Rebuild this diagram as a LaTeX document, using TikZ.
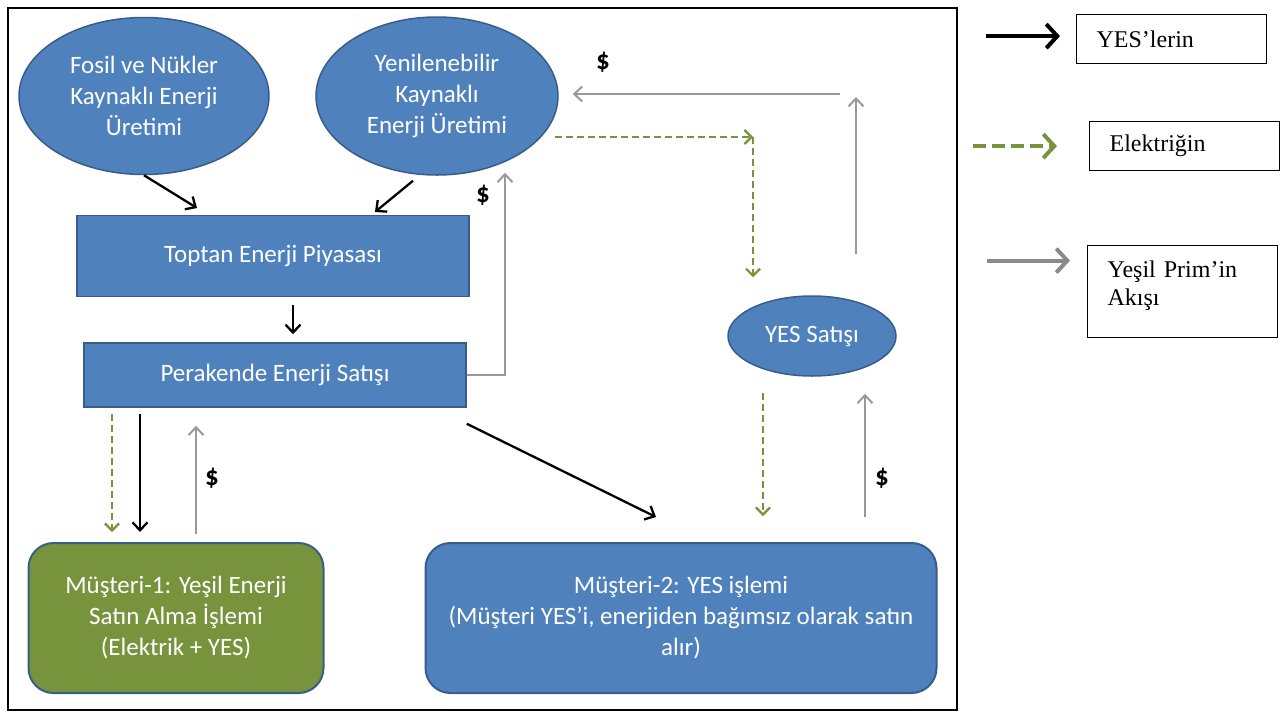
\documentclass[tikz,border=0pt]{standalone}
\usepackage{fontspec}
\setmainfont{Carlito}
\newfontfamily\legfont{Liberation Serif}
\usetikzlibrary{positioning,arrows.meta,shapes.geometric}

\definecolor{boxblue}{HTML}{4F81BD}
\definecolor{edgeblue}{HTML}{385D8A}
\definecolor{boxgreen}{HTML}{77933C}
\definecolor{flowgray}{HTML}{999999}

\begin{document}
\begin{tikzpicture}[x=1pt, y=-1pt, font=\fontsize{25}{31}\selectfont,
  blob/.style={ellipse, draw=edgeblue, line width=1.5pt, fill=boxblue, inner sep=0pt,
               label={[text=white, align=center]center:#1}},
  bar/.style={rectangle, draw=edgeblue, line width=1.5pt, fill=boxblue, text=white, align=center},
  client/.style={rectangle, rounded corners=25pt, draw=edgeblue, line width=2pt, text=white, align=center},
  yes/.style={line width=2.3pt, -{Straight Barb[length=8pt,width=15pt]}},
  elec/.style={boxgreen, line width=2.2pt, dash pattern=on 7pt off 4pt, -{Straight Barb[length=7pt,width=14pt]}},
  prim/.style={flowgray, line width=2pt, -{Straight Barb[length=8pt,width=15pt]}},
  money/.style={font=\fontsize{27}{30}\selectfont\bfseries},
  legbox/.style={draw, line width=1.2pt, anchor=north west, align=left, text width=150pt,
                 inner xsep=20pt, font=\legfont\fontsize{24}{28}\selectfont}]
  \useasboundingbox (0,0) rectangle (1288,713);
  \draw[line width=1.5pt] (8,8) rectangle (957,710);

  % producers and market
  \node[blob={Fosil ve Nükler\\Kaynaklı Enerji\\Üretimi}, minimum width=250pt, minimum height=157pt] (fosil) at (144,96) {};
  \node[blob={Yenilenebilir\\Kaynaklı\\Enerji Üretimi}, minimum width=242pt, minimum height=158pt] (yenile) at (437,96) {};
  \node[bar, minimum width=392pt, minimum height=81pt] (toptan) at (273,256) {Toptan Enerji Piyasası};
  \node[bar, minimum width=382pt, minimum height=64pt] (perak) at (275,375) {Perakende Enerji Satışı};
  \node[blob={YES Satışı}, minimum width=168pt, minimum height=80pt] (satis) at (812,336) {};

  % customers
  \node[client, fill=boxgreen, minimum width=295pt, minimum height=150pt] (mus1) at (176,618)
       {Müşteri-1: Yeşil Enerji\\Satın Alma İşlemi\\(Elektrik + YES)};
  \node[client, fill=boxblue, minimum width=511pt, minimum height=150pt] (mus2) at (681,618)
       {Müşteri-2: YES işlemi\\(Müşteri YES’i, enerjiden bağımsız olarak satın\\alır)};

  % flows at the top
  \coordinate (t1) at (197,208);
  \coordinate (t2) at (375,212);
  \draw[yes] (fosil.south) -- (t1);
  \draw[yes] ([xshift=-24pt,yshift=-5pt]yenile.south) -- (t2);
  \draw[yes] ([xshift=20pt,yshift=-8pt]toptan.south) -- ([xshift=18pt,yshift=8pt]perak.north);
  \coordinate (p1) at (505,375);
  \draw[prim] (perak.east) -- (p1) -- ([yshift=3pt]p1 |- yenile.south);
  \node[money] (d1) at (483,195) {\$};

  \coordinate (g1) at (856,97);
  \coordinate (g2) at (840,94);
  \draw[prim] ([xshift=44pt,yshift=41pt]satis.north) -- (g1);
  \draw[prim] (g2) -- ([xshift=14pt,yshift=2pt]yenile.east);
  \node[money] (d2) at (603,62) {\$};

  \coordinate (e1) at (555,137);
  \coordinate (e2) at (753,137);
  \draw[elec] (e1) -- (e2);
  \draw[elec] (e2) -- ([xshift=-59pt,yshift=18pt]satis.north);

  % flows at the bottom
  \draw[elec] ([xshift=-163pt,yshift=-6pt]perak.south) -- ([xshift=-64pt,yshift=10pt]mus1.north);
  \draw[yes] ([xshift=-135pt,yshift=-6pt]perak.south) -- ([xshift=-36pt,yshift=10pt]mus1.north);
  \draw[prim] ([xshift=20pt,yshift=8pt]mus1.north) -- ([xshift=-79pt,yshift=-18pt]perak.south);
  \node[money] (d3) at (212,478) {\$};

  \draw[yes] ([yshift=-16pt]perak.south east) -- ([xshift=-25pt,yshift=25pt]mus2.north);
  \draw[elec] ([xshift=-49pt,yshift=-16pt]satis.south) -- ([xshift=82pt,yshift=26pt]mus2.north);
  \draw[prim] ([xshift=184pt,yshift=25pt]mus2.north) -- ([xshift=53pt,yshift=-17pt]satis.south);
  \node[money] (d4) at (882,478) {\$};

  % legend
  \node[legbox, minimum height=49pt] (leg1) at (1076,14) {YES’lerin};
  \node[legbox, minimum height=49pt] (leg2) at (1089,121) {Elektriğin};
  \node[legbox, minimum height=92pt, text depth=44pt] (leg3) at (1087,245) {Yeşil Prim’in\\Akışı};
  \draw[line width=4pt, -{Straight Barb[length=11pt,width=24pt]}]
       ([xshift=-90pt,yshift=3pt]leg1.west) -- ([xshift=-16pt,yshift=3pt]leg1.west);
  \draw[boxgreen, line width=4pt, dash pattern=on 13pt off 6pt, -{Straight Barb[length=11pt,width=24pt]}]
       ([xshift=-116pt]leg2.west) -- ([xshift=-32pt]leg2.west);
  \draw[flowgray!90!black, line width=4pt, -{Straight Barb[length=11pt,width=24pt]}]
       ([xshift=-100pt,yshift=31pt]leg3.west) -- ([xshift=-17pt,yshift=31pt]leg3.west);
\end{tikzpicture}
\end{document}
